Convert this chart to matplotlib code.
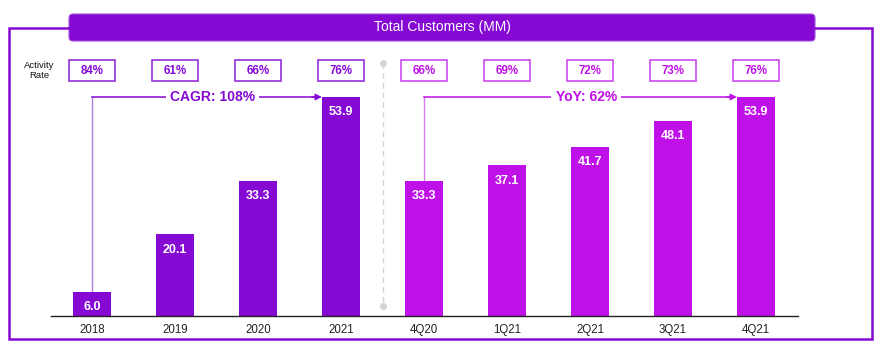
import matplotlib
matplotlib.use('Agg')
import matplotlib.pyplot as plt
from matplotlib.patches import Rectangle, FancyBboxPatch

plt.rcParams['font.family'] = ['Liberation Sans', 'DejaVu Sans']

# --- Datos ---
periods = ['2018', '2019', '2020', '2021', '4Q20', '1Q21', '2Q21', '3Q21', '4Q21']
customers = [6.0, 20.1, 33.3, 53.9, 33.3, 37.1, 41.7, 48.1, 53.9]
activity = ['84%', '61%', '66%', '76%', '66%', '69%', '72%', '73%', '76%']
n_annual = 4
cagr_label = 'CAGR: 108%'
yoy_label = 'YoY: 62%'

DARK = '#8509D3'
MAG = '#BF10E8'
DARK_EDGE = '#9631DA'
MAG_EDGE = '#C94BEE'

W, H = 886, 352
fig = plt.figure(figsize=(W / 100, H / 100), dpi=100)

# capa de marco en pixeles
ov = fig.add_axes([0, 0, 1, 1])
ov.set_xlim(0, W)
ov.set_ylim(H, 0)
ov.axis('off')
ov.plot([69, 9, 9, 872, 872, 815], [28, 28, 339, 339, 28, 28],
        color=DARK, lw=1.8, solid_joinstyle='miter')
ov.add_patch(FancyBboxPatch((69, 14), 746, 27,
                            boxstyle='round,pad=0,rounding_size=4',
                            facecolor=DARK, edgecolor='#A050DE', lw=0.8))
ov.text(442, 27.5, 'Total Customers (MM)', color='white', fontsize=10,
        ha='center', va='center')

# --- ejes de barras ---
base_px, top_px = 316, 97
ppu = (base_px - top_px) / 53.9
ymax = 60
ax = fig.add_axes([50.5 / W, (H - base_px) / H, 747 / W, ymax * ppu / H])
ax.patch.set_alpha(0)
ax.set_xlim(-0.5, 8.5)
ax.set_ylim(0, ymax)

bw = 0.46
x = list(range(len(periods)))
colors = [DARK if i < n_annual else MAG for i in x]
ax.bar(x, customers, width=bw, color=colors, zorder=2)

for xi, v in zip(x, customers):
    ax.annotate(f'{v:.1f}', (xi, v), xytext=(0, -11), textcoords='offset points',
                ha='center', va='center', color='white', fontsize=9,
                fontweight='bold', zorder=3)

for s in ['top', 'right', 'left']:
    ax.spines[s].set_visible(False)
ax.spines['bottom'].set_color('#222222')
ax.spines['bottom'].set_linewidth(1.0)
ax.set_yticks([])
ax.set_xticks(x)
ax.set_xticklabels(periods, fontsize=8.3, color='#222222')
ax.tick_params(axis='x', length=0, pad=6)


def ypx(py):
    return (base_px - py) / ppu


# cajas de tasa de actividad
bx_w = 46 / 83
for xi, a in zip(x, activity):
    c = DARK if xi < n_annual else MAG
    ec = DARK_EDGE if xi < n_annual else MAG_EDGE
    ax.add_patch(Rectangle((xi - bx_w / 2, ypx(81)), bx_w, ypx(60) - ypx(81),
                           facecolor='white', edgecolor=ec, lw=1.2, clip_on=False))
    ax.text(xi, (ypx(81) + ypx(60)) / 2, a, ha='center', va='center',
            color=c, fontsize=8.3, fontweight='bold', clip_on=False)
ax.text(-0.64, ypx(70.5), 'Activity\nRate', ha='center', va='center',
        fontsize=6.8, color='#111111', linespacing=1.05)

# separador
sep_x = 3.5
ax.plot([sep_x, sep_x], [ypx(63), ypx(306)], color='#D4D4D4', lw=1,
        ls=(0, (4, 3)), clip_on=False)
ax.plot([sep_x, sep_x], [ypx(63), ypx(306)], 'o', color='#D4D4D4', ms=4,
        clip_on=False)


# flechas CAGR / YoY
def growth_arrow(i0, i1, label, c, vc):
    y0 = customers[i0]
    yl = customers[i1]
    xe = i1 - bw / 2
    ax.plot([i0, i0], [y0, yl], color=vc, lw=1, zorder=1)
    ax.plot([i0, xe - 0.1], [yl, yl], color=c, lw=1.1, zorder=1)
    ax.annotate('', xy=(xe, yl), xytext=(xe - 0.12, yl),
                arrowprops=dict(arrowstyle='-|>', color=c, lw=1.1,
                                mutation_scale=9, shrinkA=0, shrinkB=0))
    ax.text((i0 + xe) / 2 + 0.07, yl, label, ha='center', va='center',
            color=c, fontsize=10, fontweight='bold', zorder=4,
            bbox=dict(facecolor='white', edgecolor='none', pad=3))


growth_arrow(0, 3, cagr_label, DARK, '#B27BE6')
growth_arrow(4, 8, yoy_label, MAG, '#D77CF0')

fig.savefig('out.png', dpi=100)
